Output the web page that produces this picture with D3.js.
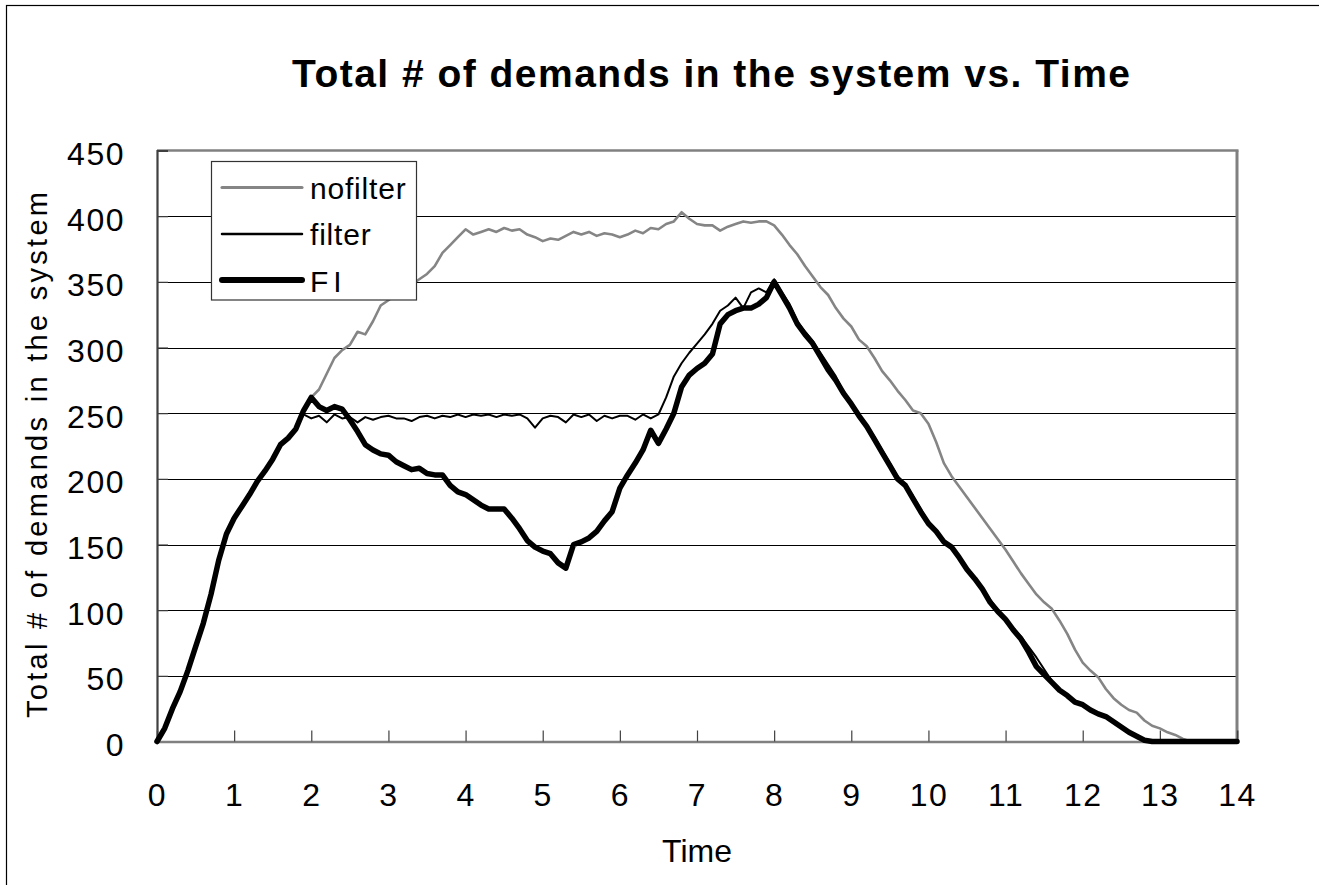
<!DOCTYPE html>
<html>
<head>
<meta charset="utf-8">
<script src="https://cdn.jsdelivr.net/npm/d3@7"></script>
<style>
  html, body { margin: 0; padding: 0; background: #fff; }
  svg { display: block; }
  text { font-family: "Liberation Sans", Arial, sans-serif; fill: #000; }
</style>
</head>
<body>
<svg id="chart" width="1319" height="885"></svg>
<script>
// ---- Data (time step 0.1, t = 0 .. 14) ----
const timeTicks = [0,1,2,3,4,5,6,7,8,9,10,11,12,13,14];
const valueTicks = [0,50,100,150,200,250,300,350,400,450];
const seriesNames = ["nofilter", "filter", "FI"];

const nofilter = [
  0,10,25,38,54,72,90,112,138,158,
  170,179,188,198,206,215,226,231,238,252,
  262,268,280,292,298,302,312,310,320,332,
  336,340,345,348,352,356,362,372,378,384,
  390,386,388,390,388,391,389,390,386,384,
  381,383,382,385,388,386,388,385,387,386,
  384,386,389,387,391,390,394,396,403,398,
  394,393,393,389,392,394,396,395,396,396,
  393,386,378,371,362,354,346,340,330,322,
  316,306,301,292,282,275,267,260,252,250,
  242,228,212,202,194,186,178,170,162,154,
  146,137,128,120,112,106,101,92,82,70,
  60,54,49,40,33,28,24,22,16,12,
  10,7,5,2,0,0,0,0,0,0,
  0
];
const filter = [
  0,10,25,38,54,72,90,112,138,158,
  170,179,188,198,206,215,226,231,238,249,
  246,248,243,249,246,247,243,247,245,247,
  248,246,246,244,247,248,246,248,247,249,
  247,249,248,249,247,249,248,249,246,239,
  246,248,247,243,249,247,249,244,248,246,
  248,248,245,249,246,249,262,278,288,296,
  303,310,318,328,332,338,330,342,345,342,
  352,342,333,320,312,305,296,287,278,266,
  258,249,241,232,222,212,202,196,187,177,
  167,161,153,148,141,132,125,117,108,100,
  94,86,80,72,64,55,46,40,35,31,
  28,24,21,19,15,11,7,4,1,0,
  0,0,0,0,0,0,0,0,0,0,
  0
];
const FI = [
  0,10,25,38,54,72,90,112,138,158,
  170,179,188,198,206,215,226,231,238,252,
  262,255,252,255,253,245,236,226,222,219,
  218,213,210,207,208,204,203,203,195,190,
  188,184,180,177,177,177,170,162,153,148,
  145,143,136,132,150,152,155,160,168,175,
  193,203,212,222,237,227,238,250,270,279,
  284,288,295,318,325,328,330,330,333,338,
  350,340,330,318,310,303,293,283,275,265,
  257,248,240,230,220,210,200,195,185,175,
  166,160,152,148,140,131,124,116,106,99,
  93,85,78,68,57,51,45,39,35,30,
  28,24,21,19,15,11,7,4,1,0,
  0,0,0,0,0,0,0,0,0,0,
  0
];
const times = nofilter.map((_, i) => i / 10);

// ---- Layout ----
const svg = d3.select("#chart");
const pL = 157, pR = 1237, pT = 150.5, pB = 741.5;

const x = d3.scaleLinear().domain([0, 14]).range([pL, pR]);
const y = d3.scaleLinear().domain([0, 450]).range([pB, pT]);

// outer frame (clipped at right/bottom like the reference)
svg.append("rect")
  .attr("x", 6.5).attr("y", 5.5).attr("width", 1400).attr("height", 1000)
  .attr("fill", "none").attr("stroke", "#000").attr("stroke-width", 1.2);

// title
svg.append("text")
  .attr("x", 292).attr("y", 87)
  .attr("font-size", 39).attr("font-weight", "bold")
  .attr("textLength", 838).attr("lengthAdjust", "spacing")
  .text("Total # of demands in the system vs. Time");

// gridlines
svg.append("g").selectAll("line")
  .data(valueTicks.filter(v => v > 0 && v < 450))
  .join("line")
  .attr("x1", pL).attr("x2", pR)
  .attr("y1", d => Math.round(y(d)) + 0.5).attr("y2", d => Math.round(y(d)) + 0.5)
  .attr("stroke", "#000").attr("stroke-width", 1);

// plot frame: top & right grey
svg.append("line").attr("x1", pL).attr("x2", pR + 1.5)
  .attr("y1", pT).attr("y2", pT).attr("stroke", "#808080").attr("stroke-width", 2.5);
svg.append("line").attr("x1", pR).attr("x2", pR)
  .attr("y1", pT).attr("y2", pB).attr("stroke", "#808080").attr("stroke-width", 3);

// axes via d3
const yAxis = d3.axisLeft(y).tickValues(valueTicks).tickSize(-11).tickPadding(0).tickFormat(d3.format("d"));
const gy = svg.append("g").attr("transform", `translate(${pL},0)`).call(yAxis);
gy.select(".domain").attr("stroke", "#404040").attr("stroke-width", 2.2);
gy.selectAll(".tick line").attr("stroke", "#404040").attr("stroke-width", 1.2);
gy.selectAll(".tick text")
  .attr("x", -32).attr("dy", null).attr("y", 14)
  .attr("text-anchor", "end")
  .attr("font-size", 32).attr("font-family", "Liberation Sans, Arial, sans-serif")
  .attr("fill", "#000");

const xAxis = d3.axisBottom(x).tickValues(timeTicks).tickSize(-11).tickPadding(0).tickFormat(d3.format("d"));
const gx = svg.append("g").attr("transform", `translate(0,${pB})`).call(xAxis);
gx.select(".domain").attr("stroke", "#808080").attr("stroke-width", 2.5);
gx.selectAll(".tick line").attr("stroke", "#404040").attr("stroke-width", 1.2);
gx.selectAll(".tick text")
  .attr("y", 64).attr("dy", null)
  .attr("font-size", 32).attr("font-family", "Liberation Sans, Arial, sans-serif")
  .attr("fill", "#000");
svg.selectAll(".tick text").attr("letter-spacing", 1.5);

// axis titles
svg.append("text")
  .attr("x", 697).attr("y", 862).attr("text-anchor", "middle")
  .attr("font-size", 32).text("Time");

svg.append("text")
  .attr("transform", "translate(47,455) rotate(-90)")
  .attr("text-anchor", "middle")
  .attr("font-size", 29)
  .attr("textLength", 526).attr("lengthAdjust", "spacing")
  .text("Total # of demands in the system");

// series
const styles = {
  nofilter: { color: "#858585", width: 2.6 },
  filter:   { color: "#000",    width: 2 },
  FI:       { color: "#000",    width: 5.5 }
};
const dataMap = { nofilter, filter, FI };
const line = d3.line().x((d, i) => x(times[i])).y(d => y(d));

["nofilter", "FI", "filter"].forEach(name => {
  svg.append("path")
    .datum(dataMap[name])
    .attr("d", line)
    .attr("fill", "none")
    .attr("stroke", styles[name].color)
    .attr("stroke-width", styles[name].width)
    .attr("stroke-linejoin", "round")
    .attr("stroke-linecap", "round");
});

// legend
const lg = svg.append("g");
lg.append("rect").attr("x", 211.5).attr("y", 161.5).attr("width", 205).attr("height", 138.5)
  .attr("fill", "#fff").attr("stroke", "#333").attr("stroke-width", 1.2);
const legY = [187.5, 234, 280];
const legBase = [198.5, 245, 291.5];
seriesNames.forEach((name, i) => {
  lg.append("line").attr("x1", 222).attr("x2", 302)
    .attr("y1", legY[i]).attr("y2", legY[i])
    .attr("stroke", styles[name].color)
    .attr("stroke-width", name === "FI" ? 6 : styles[name].width + 0.5)
    .attr("stroke-linecap", "round");
  lg.append("text").attr("x", 310).attr("y", legBase[i])
    .attr("font-size", 30).attr("letter-spacing", name === "FI" ? 5 : 0.8)
    .text(name);
});
</script>
</body>
</html>
